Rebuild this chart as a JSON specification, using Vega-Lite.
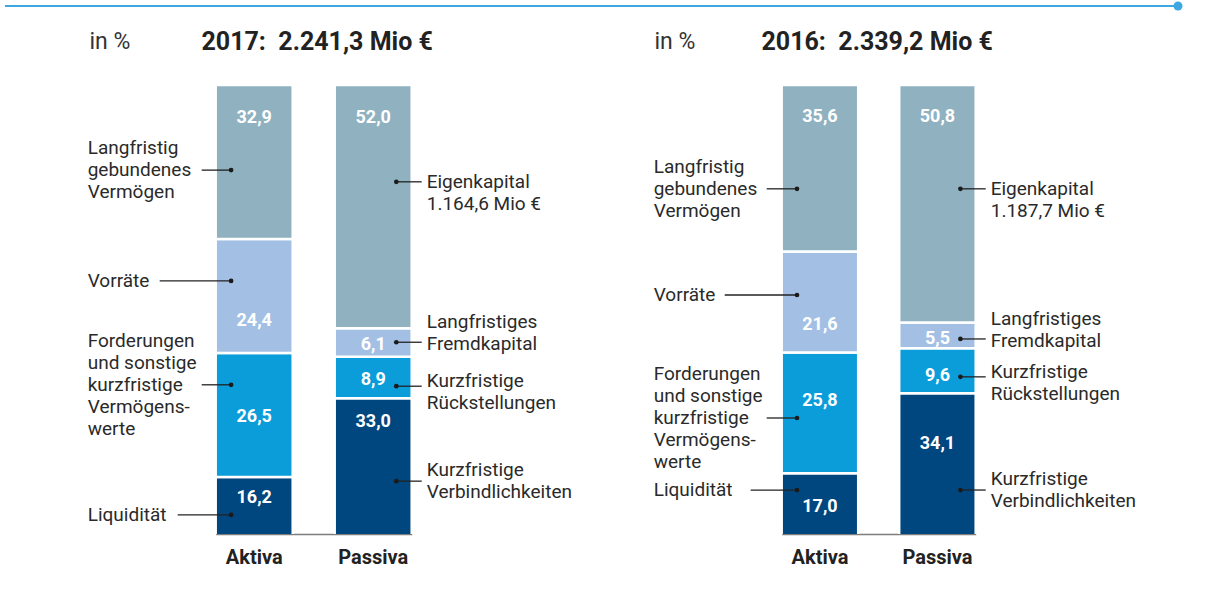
{
  "$schema": "https://vega.github.io/schema/vega-lite/v6.json",
  "background": "white",
  "padding": {"left": 3, "top": 1, "right": 0, "bottom": 0},
  "bounds": "flush",
  "spacing": 79,
  "config": {"view": {"stroke": null}, "axis": {"grid": false}, "font": "Roboto"},
  "datasets": {
    "bars2017": [
      {"side": "Aktiva", "tier": 1, "value": 16.2, "label": "16,2", "at": 11.8},
      {"side": "Aktiva", "tier": 2, "value": 26.5, "label": "26,5", "at": 29.0},
      {"side": "Aktiva", "tier": 3, "value": 24.4, "label": "24,4", "at": 49.5},
      {"side": "Aktiva", "tier": 4, "value": 32.9, "label": "32,9", "at": 92.9},
      {"side": "Passiva", "tier": 1, "value": 33.0, "label": "33,0", "at": 27.9},
      {"side": "Passiva", "tier": 2, "value": 8.9, "label": "8,9", "at": 36.9},
      {"side": "Passiva", "tier": 3, "value": 6.1, "label": "6,1", "at": 44.4},
      {"side": "Passiva", "tier": 4, "value": 52.0, "label": "52,0", "at": 92.9}
    ],
    "bars2016": [
      {"side": "Aktiva", "tier": 1, "value": 17.0, "label": "17,0", "at": 9.8},
      {"side": "Aktiva", "tier": 2, "value": 25.8, "label": "25,8", "at": 32.4},
      {"side": "Aktiva", "tier": 3, "value": 21.6, "label": "21,6", "at": 48.7},
      {"side": "Aktiva", "tier": 4, "value": 35.6, "label": "35,6", "at": 93.2},
      {"side": "Passiva", "tier": 1, "value": 34.1, "label": "34,1", "at": 23.2},
      {"side": "Passiva", "tier": 2, "value": 9.6, "label": "9,6", "at": 37.8},
      {"side": "Passiva", "tier": 3, "value": 5.5, "label": "5,5", "at": 45.7},
      {"side": "Passiva", "tier": 4, "value": 50.8, "label": "50,8", "at": 93.2}
    ],
    "notes2017": [
      {"key": "LGV", "side": "Aktiva", "lines": ["Langfristig", "gebundenes", "Vermögen"], "dot": 81.8, "line": 1},
      {"key": "VOR", "side": "Aktiva", "lines": ["Vorräte"], "dot": 58.1, "line": 0},
      {"key": "FOR", "side": "Aktiva", "lines": ["Forderungen", "und sonstige", "kurzfristige", "Vermögens-", "werte"], "dot": 35.9, "line": 2},
      {"key": "LIQ", "side": "Aktiva", "lines": ["Liquidität"], "dot": 8.1, "line": 0},
      {"key": "EK", "side": "Passiva", "lines": ["Eigenkapital", "1.164,6 Mio €"], "dot": 79.3, "line": 0},
      {"key": "LFK", "side": "Passiva", "lines": ["Langfristiges", "Fremdkapital"], "dot": 45.0, "line": 1},
      {"key": "KRS", "side": "Passiva", "lines": ["Kurzfristige", "Rückstellungen"], "dot": 35.6, "line": 0.25},
      {"key": "KVB", "side": "Passiva", "lines": ["Kurzfristige", "Verbindlichkeiten"], "dot": 15.3, "line": 0.5}
    ],
    "notes2016": [
      {"key": "LGV", "side": "Aktiva", "lines": ["Langfristig", "gebundenes", "Vermögen"], "dot": 77.8, "line": 1},
      {"key": "VOR", "side": "Aktiva", "lines": ["Vorräte"], "dot": 55.1, "line": 0},
      {"key": "FOR", "side": "Aktiva", "lines": ["Forderungen", "und sonstige", "kurzfristige", "Vermögens-", "werte"], "dot": 28.8, "line": 2},
      {"key": "LIQ", "side": "Aktiva", "lines": ["Liquidität"], "dot": 13.4, "line": 0},
      {"key": "EK", "side": "Passiva", "lines": ["Eigenkapital", "1.187,7 Mio €"], "dot": 77.8, "line": 0},
      {"key": "LFK", "side": "Passiva", "lines": ["Langfristiges", "Fremdkapital"], "dot": 45.7, "line": 1},
      {"key": "KRS", "side": "Passiva", "lines": ["Kurzfristige", "Rückstellungen"], "dot": 37.6, "line": 0.25},
      {"key": "KVB", "side": "Passiva", "lines": ["Kurzfristige", "Verbindlichkeiten"], "dot": 13.4, "line": 0.5}
    ]
  },
  "vconcat": [
    {
      "width": 1092,
      "height": 1,
      "data": {"values": [{"d": 1}]},
      "layer": [
        {
          "mark": {"type": "rule", "color": "#3ba8e1", "strokeWidth": 2},
          "encoding": {
            "x": {"datum": -0.0742, "type": "quantitative", "scale": {"domain": [0, 1], "nice": false, "zero": false}, "axis": null},
            "x2": {"datum": 1},
            "y": {"datum": 0, "type": "quantitative", "scale": {"domain": [0, 1]}, "axis": null}
          }
        },
        {
          "mark": {"type": "circle", "color": "#3ba8e1", "size": 80, "opacity": 1},
          "encoding": {
            "x": {"datum": 1, "type": "quantitative", "scale": {"domain": [0, 1], "nice": false, "zero": false}, "axis": null},
            "y": {"datum": 0, "type": "quantitative", "scale": {"domain": [0, 1]}, "axis": null}
          }
        }
      ]
    },
    {
      "hconcat": [
        {
          "width": 535,
          "height": 449,
          "layer": [
            {
              "data": {"name": "bars2017"},
              "mark": {"type": "bar", "clip": true, "stroke": "white", "strokeWidth": 2.5},
              "encoding": {
                "x": {"field": "side", "type": "nominal",
                  "scale": {"domain": ["Aktiva", "Passiva"], "range": [129.7, 325.7], "paddingInner": 0.353, "paddingOuter": 0},
                  "axis": {"title": "2017:\u00a0 2.241,3 Mio €", "titleX": 115, "titleY": -493, "titleAlign": "left", "titleBaseline": "middle", "titleAngle": 0, "titleFont": "Roboto", "titleFontSize": 25, "titleFontWeight": "bold", "titleColor": "#222222",
                    "domain": true, "domainColor": "#7d7d7d", "domainWidth": 1.5, "ticks": false, "tickSize": 0, "labelAngle": 0, "labelFont": "Roboto", "labelFontSize": 20, "labelFontWeight": "bold", "labelColor": "#222222", "labelPadding": 13, "labelBaseline": "top"}},
                "y": {"field": "value", "type": "quantitative", "stack": "zero",
                  "scale": {"domain": [4, 100], "nice": false, "zero": false},
                  "axis": {"title": "in %", "titleX": 3, "titleY": -44, "titleAngle": 0, "titleAlign": "left", "titleBaseline": "middle", "titleFont": "Roboto", "titleFontSize": 23, "titleFontWeight": "normal", "titleColor": "#333333", "domain": false, "ticks": false, "labels": false, "grid": false}},
                "color": {"field": "tier", "type": "ordinal", "scale": {"domain": [1, 2, 3, 4], "range": ["#00467f", "#0a9dda", "#a3c0e4", "#8fb1c0"]}, "legend": null},
                "order": {"field": "tier", "type": "quantitative", "sort": "ascending"}
              }
            },
            {
              "data": {"name": "bars2017"},
              "mark": {"type": "text", "font": "Roboto", "fontWeight": "bold", "fontSize": 18, "color": "#ffffff", "baseline": "middle", "align": "center"},
              "encoding": {
                "x": {"field": "side", "type": "nominal"},
                "y": {"field": "at", "type": "quantitative", "scale": {"domain": [4, 100], "nice": false, "zero": false}},
                "text": {"field": "label"}
              }
            },
            {
              "data": {"name": "notes2017"},
              "transform": [{"filter": "datum.key == 'LGV' || datum.key == 'FOR'"}],
              "mark": {"type": "rule", "color": "#222222", "strokeWidth": 1.3, "x2Offset": -14},
              "encoding": {
                "x": {"field": "side", "type": "nominal", "bandPosition": 0.2},
                "x2": {"field": "side", "bandPosition": 0},
                "y": {"field": "dot", "type": "quantitative", "scale": {"domain": [4, 100], "nice": false, "zero": false}}
              }
            },
            {
              "data": {"name": "notes2017"},
              "transform": [{"filter": "datum.key == 'VOR'"}],
              "mark": {"type": "rule", "color": "#222222", "strokeWidth": 1.3, "x2Offset": -56},
              "encoding": {
                "x": {"field": "side", "type": "nominal", "bandPosition": 0.2},
                "x2": {"field": "side", "bandPosition": 0},
                "y": {"field": "dot", "type": "quantitative", "scale": {"domain": [4, 100], "nice": false, "zero": false}}
              }
            },
            {
              "data": {"name": "notes2017"},
              "transform": [{"filter": "datum.key == 'LIQ'"}],
              "mark": {"type": "rule", "color": "#222222", "strokeWidth": 1.3, "x2Offset": -38},
              "encoding": {
                "x": {"field": "side", "type": "nominal", "bandPosition": 0.2},
                "x2": {"field": "side", "bandPosition": 0},
                "y": {"field": "dot", "type": "quantitative", "scale": {"domain": [4, 100], "nice": false, "zero": false}}
              }
            },
            {
              "data": {"name": "notes2017"},
              "transform": [{"filter": "datum.side == 'Passiva'"}],
              "mark": {"type": "rule", "color": "#222222", "strokeWidth": 1.3, "x2Offset": 10},
              "encoding": {
                "x": {"field": "side", "type": "nominal", "bandPosition": 0.8},
                "x2": {"field": "side", "bandPosition": 1},
                "y": {"field": "dot", "type": "quantitative", "scale": {"domain": [4, 100], "nice": false, "zero": false}}
              }
            },
            {
              "data": {"name": "notes2017"},
              "transform": [{"filter": "datum.side == 'Aktiva'"}],
              "mark": {"type": "circle", "color": "#1a1a1a", "size": 22, "opacity": 1},
              "encoding": {
                "x": {"field": "side", "type": "nominal", "bandPosition": 0.2},
                "y": {"field": "dot", "type": "quantitative", "scale": {"domain": [4, 100], "nice": false, "zero": false}}
              }
            },
            {
              "data": {"name": "notes2017"},
              "transform": [{"filter": "datum.side == 'Passiva'"}],
              "mark": {"type": "circle", "color": "#1a1a1a", "size": 22, "opacity": 1},
              "encoding": {
                "x": {"field": "side", "type": "nominal", "bandPosition": 0.8},
                "y": {"field": "dot", "type": "quantitative", "scale": {"domain": [4, 100], "nice": false, "zero": false}}
              }
            },
            {
              "data": {"name": "notes2017"},
              "transform": [{"filter": "datum.side == 'Aktiva' && datum.line == 0"}],
              "mark": {"type": "text", "font": "Roboto", "fontSize": 19, "color": "#2a2a2a", "align": "left", "baseline": "middle", "lineHeight": 22, "dx": -128},
              "encoding": {
                "x": {"field": "side", "type": "nominal", "bandPosition": 0},
                "y": {"field": "dot", "type": "quantitative", "scale": {"domain": [4, 100], "nice": false, "zero": false}},
                "text": {"field": "lines"}
              }
            },
            {
              "data": {"name": "notes2017"},
              "transform": [{"filter": "datum.side == 'Aktiva' && datum.line == 1"}],
              "mark": {"type": "text", "font": "Roboto", "fontSize": 19, "color": "#2a2a2a", "align": "left", "baseline": "middle", "lineHeight": 22, "dx": -128, "dy": -22},
              "encoding": {
                "x": {"field": "side", "type": "nominal", "bandPosition": 0},
                "y": {"field": "dot", "type": "quantitative", "scale": {"domain": [4, 100], "nice": false, "zero": false}},
                "text": {"field": "lines"}
              }
            },
            {
              "data": {"name": "notes2017"},
              "transform": [{"filter": "datum.side == 'Aktiva' && datum.line == 2"}],
              "mark": {"type": "text", "font": "Roboto", "fontSize": 19, "color": "#2a2a2a", "align": "left", "baseline": "middle", "lineHeight": 22, "dx": -128, "dy": -44},
              "encoding": {
                "x": {"field": "side", "type": "nominal", "bandPosition": 0},
                "y": {"field": "dot", "type": "quantitative", "scale": {"domain": [4, 100], "nice": false, "zero": false}},
                "text": {"field": "lines"}
              }
            },
            {
              "data": {"name": "notes2017"},
              "transform": [{"filter": "datum.side == 'Passiva' && datum.line == 0"}],
              "mark": {"type": "text", "font": "Roboto", "fontSize": 19, "color": "#2a2a2a", "align": "left", "baseline": "middle", "lineHeight": 22, "dx": 15},
              "encoding": {
                "x": {"field": "side", "type": "nominal", "bandPosition": 1},
                "y": {"field": "dot", "type": "quantitative", "scale": {"domain": [4, 100], "nice": false, "zero": false}},
                "text": {"field": "lines"}
              }
            },
            {
              "data": {"name": "notes2017"},
              "transform": [{"filter": "datum.side == 'Passiva' && datum.line == 0.25"}],
              "mark": {"type": "text", "font": "Roboto", "fontSize": 19, "color": "#2a2a2a", "align": "left", "baseline": "middle", "lineHeight": 22, "dx": 15, "dy": -5},
              "encoding": {
                "x": {"field": "side", "type": "nominal", "bandPosition": 1},
                "y": {"field": "dot", "type": "quantitative", "scale": {"domain": [4, 100], "nice": false, "zero": false}},
                "text": {"field": "lines"}
              }
            },
            {
              "data": {"name": "notes2017"},
              "transform": [{"filter": "datum.side == 'Passiva' && datum.line == 0.5"}],
              "mark": {"type": "text", "font": "Roboto", "fontSize": 19, "color": "#2a2a2a", "align": "left", "baseline": "middle", "lineHeight": 22, "dx": 15, "dy": -11},
              "encoding": {
                "x": {"field": "side", "type": "nominal", "bandPosition": 1},
                "y": {"field": "dot", "type": "quantitative", "scale": {"domain": [4, 100], "nice": false, "zero": false}},
                "text": {"field": "lines"}
              }
            },
            {
              "data": {"name": "notes2017"},
              "transform": [{"filter": "datum.side == 'Passiva' && datum.line == 1"}],
              "mark": {"type": "text", "font": "Roboto", "fontSize": 19, "color": "#2a2a2a", "align": "left", "baseline": "middle", "lineHeight": 22, "dx": 15, "dy": -20},
              "encoding": {
                "x": {"field": "side", "type": "nominal", "bandPosition": 1},
                "y": {"field": "dot", "type": "quantitative", "scale": {"domain": [4, 100], "nice": false, "zero": false}},
                "text": {"field": "lines"}
              }
            }
          ]
        },
        {
          "width": 491,
          "height": 449,
          "layer": [
            {
              "data": {"name": "bars2016"},
              "mark": {"type": "bar", "clip": true, "stroke": "white", "strokeWidth": 2.5},
              "encoding": {
                "x": {"field": "side", "type": "nominal",
                  "scale": {"domain": ["Aktiva", "Passiva"], "range": [160.7, 354.7], "paddingInner": 0.349, "paddingOuter": 0},
                  "axis": {"title": "2016:\u00a0 2.339,2 Mio €", "titleX": 140, "titleY": -493, "titleAlign": "left", "titleBaseline": "middle", "titleAngle": 0, "titleFont": "Roboto", "titleFontSize": 25, "titleFontWeight": "bold", "titleColor": "#222222",
                    "domain": true, "domainColor": "#7d7d7d", "domainWidth": 1.5, "ticks": false, "tickSize": 0, "labelAngle": 0, "labelFont": "Roboto", "labelFontSize": 20, "labelFontWeight": "bold", "labelColor": "#222222", "labelPadding": 13, "labelBaseline": "top"}},
                "y": {"field": "value", "type": "quantitative", "stack": "zero",
                  "scale": {"domain": [4, 100], "nice": false, "zero": false},
                  "axis": {"title": "in %", "titleX": 33, "titleY": -44, "titleAngle": 0, "titleAlign": "left", "titleBaseline": "middle", "titleFont": "Roboto", "titleFontSize": 23, "titleFontWeight": "normal", "titleColor": "#333333", "domain": false, "ticks": false, "labels": false, "grid": false}},
                "color": {"field": "tier", "type": "ordinal", "scale": {"domain": [1, 2, 3, 4], "range": ["#00467f", "#0a9dda", "#a3c0e4", "#8fb1c0"]}, "legend": null},
                "order": {"field": "tier", "type": "quantitative", "sort": "ascending"}
              }
            },
            {
              "data": {"name": "bars2016"},
              "mark": {"type": "text", "font": "Roboto", "fontWeight": "bold", "fontSize": 18, "color": "#ffffff", "baseline": "middle", "align": "center"},
              "encoding": {
                "x": {"field": "side", "type": "nominal"},
                "y": {"field": "at", "type": "quantitative", "scale": {"domain": [4, 100], "nice": false, "zero": false}},
                "text": {"field": "label"}
              }
            },
            {
              "data": {"name": "notes2016"},
              "transform": [{"filter": "datum.key == 'LGV' || datum.key == 'FOR'"}],
              "mark": {"type": "rule", "color": "#222222", "strokeWidth": 1.3, "x2Offset": -15},
              "encoding": {
                "x": {"field": "side", "type": "nominal", "bandPosition": 0.2},
                "x2": {"field": "side", "bandPosition": 0},
                "y": {"field": "dot", "type": "quantitative", "scale": {"domain": [4, 100], "nice": false, "zero": false}}
              }
            },
            {
              "data": {"name": "notes2016"},
              "transform": [{"filter": "datum.key == 'VOR'"}],
              "mark": {"type": "rule", "color": "#222222", "strokeWidth": 1.3, "x2Offset": -57},
              "encoding": {
                "x": {"field": "side", "type": "nominal", "bandPosition": 0.2},
                "x2": {"field": "side", "bandPosition": 0},
                "y": {"field": "dot", "type": "quantitative", "scale": {"domain": [4, 100], "nice": false, "zero": false}}
              }
            },
            {
              "data": {"name": "notes2016"},
              "transform": [{"filter": "datum.key == 'LIQ'"}],
              "mark": {"type": "rule", "color": "#222222", "strokeWidth": 1.3, "x2Offset": -31},
              "encoding": {
                "x": {"field": "side", "type": "nominal", "bandPosition": 0.2},
                "x2": {"field": "side", "bandPosition": 0},
                "y": {"field": "dot", "type": "quantitative", "scale": {"domain": [4, 100], "nice": false, "zero": false}}
              }
            },
            {
              "data": {"name": "notes2016"},
              "transform": [{"filter": "datum.side == 'Passiva'"}],
              "mark": {"type": "rule", "color": "#222222", "strokeWidth": 1.3, "x2Offset": 10},
              "encoding": {
                "x": {"field": "side", "type": "nominal", "bandPosition": 0.8},
                "x2": {"field": "side", "bandPosition": 1},
                "y": {"field": "dot", "type": "quantitative", "scale": {"domain": [4, 100], "nice": false, "zero": false}}
              }
            },
            {
              "data": {"name": "notes2016"},
              "transform": [{"filter": "datum.side == 'Aktiva'"}],
              "mark": {"type": "circle", "color": "#1a1a1a", "size": 22, "opacity": 1},
              "encoding": {
                "x": {"field": "side", "type": "nominal", "bandPosition": 0.2},
                "y": {"field": "dot", "type": "quantitative", "scale": {"domain": [4, 100], "nice": false, "zero": false}}
              }
            },
            {
              "data": {"name": "notes2016"},
              "transform": [{"filter": "datum.side == 'Passiva'"}],
              "mark": {"type": "circle", "color": "#1a1a1a", "size": 22, "opacity": 1},
              "encoding": {
                "x": {"field": "side", "type": "nominal", "bandPosition": 0.8},
                "y": {"field": "dot", "type": "quantitative", "scale": {"domain": [4, 100], "nice": false, "zero": false}}
              }
            },
            {
              "data": {"name": "notes2016"},
              "transform": [{"filter": "datum.side == 'Aktiva' && datum.line == 0"}],
              "mark": {"type": "text", "font": "Roboto", "fontSize": 19, "color": "#2a2a2a", "align": "left", "baseline": "middle", "lineHeight": 22, "dx": -128},
              "encoding": {
                "x": {"field": "side", "type": "nominal", "bandPosition": 0},
                "y": {"field": "dot", "type": "quantitative", "scale": {"domain": [4, 100], "nice": false, "zero": false}},
                "text": {"field": "lines"}
              }
            },
            {
              "data": {"name": "notes2016"},
              "transform": [{"filter": "datum.side == 'Aktiva' && datum.line == 1"}],
              "mark": {"type": "text", "font": "Roboto", "fontSize": 19, "color": "#2a2a2a", "align": "left", "baseline": "middle", "lineHeight": 22, "dx": -128, "dy": -22},
              "encoding": {
                "x": {"field": "side", "type": "nominal", "bandPosition": 0},
                "y": {"field": "dot", "type": "quantitative", "scale": {"domain": [4, 100], "nice": false, "zero": false}},
                "text": {"field": "lines"}
              }
            },
            {
              "data": {"name": "notes2016"},
              "transform": [{"filter": "datum.side == 'Aktiva' && datum.line == 2"}],
              "mark": {"type": "text", "font": "Roboto", "fontSize": 19, "color": "#2a2a2a", "align": "left", "baseline": "middle", "lineHeight": 22, "dx": -128, "dy": -44},
              "encoding": {
                "x": {"field": "side", "type": "nominal", "bandPosition": 0},
                "y": {"field": "dot", "type": "quantitative", "scale": {"domain": [4, 100], "nice": false, "zero": false}},
                "text": {"field": "lines"}
              }
            },
            {
              "data": {"name": "notes2016"},
              "transform": [{"filter": "datum.side == 'Passiva' && datum.line == 0"}],
              "mark": {"type": "text", "font": "Roboto", "fontSize": 19, "color": "#2a2a2a", "align": "left", "baseline": "middle", "lineHeight": 22, "dx": 15},
              "encoding": {
                "x": {"field": "side", "type": "nominal", "bandPosition": 1},
                "y": {"field": "dot", "type": "quantitative", "scale": {"domain": [4, 100], "nice": false, "zero": false}},
                "text": {"field": "lines"}
              }
            },
            {
              "data": {"name": "notes2016"},
              "transform": [{"filter": "datum.side == 'Passiva' && datum.line == 0.25"}],
              "mark": {"type": "text", "font": "Roboto", "fontSize": 19, "color": "#2a2a2a", "align": "left", "baseline": "middle", "lineHeight": 22, "dx": 15, "dy": -5},
              "encoding": {
                "x": {"field": "side", "type": "nominal", "bandPosition": 1},
                "y": {"field": "dot", "type": "quantitative", "scale": {"domain": [4, 100], "nice": false, "zero": false}},
                "text": {"field": "lines"}
              }
            },
            {
              "data": {"name": "notes2016"},
              "transform": [{"filter": "datum.side == 'Passiva' && datum.line == 0.5"}],
              "mark": {"type": "text", "font": "Roboto", "fontSize": 19, "color": "#2a2a2a", "align": "left", "baseline": "middle", "lineHeight": 22, "dx": 15, "dy": -11},
              "encoding": {
                "x": {"field": "side", "type": "nominal", "bandPosition": 1},
                "y": {"field": "dot", "type": "quantitative", "scale": {"domain": [4, 100], "nice": false, "zero": false}},
                "text": {"field": "lines"}
              }
            },
            {
              "data": {"name": "notes2016"},
              "transform": [{"filter": "datum.side == 'Passiva' && datum.line == 1"}],
              "mark": {"type": "text", "font": "Roboto", "fontSize": 19, "color": "#2a2a2a", "align": "left", "baseline": "middle", "lineHeight": 22, "dx": 15, "dy": -20},
              "encoding": {
                "x": {"field": "side", "type": "nominal", "bandPosition": 1},
                "y": {"field": "dot", "type": "quantitative", "scale": {"domain": [4, 100], "nice": false, "zero": false}},
                "text": {"field": "lines"}
              }
            }
          ]
        }
      ],
      "spacing": 0,
      "bounds": "flush"
    }
  ]
}
